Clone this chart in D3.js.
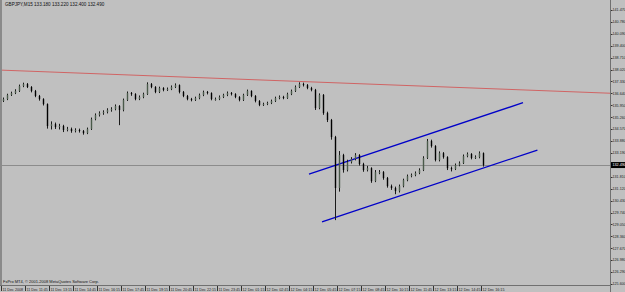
<!DOCTYPE html>
<html>
<head>
<meta charset="utf-8">
<script src="https://cdn.jsdelivr.net/npm/d3@7/dist/d3.min.js"></script>
<style>
  body { margin: 0; background: #c0c0c0; }
  svg { display: block; }
  text { font-family: "Liberation Sans", "DejaVu Sans", sans-serif; }
</style>
</head>
<body>
<svg></svg>
<script>
// GBPJPY M15, 11-12 Dec 2008
const opens = [
  136.20,136.31,136.55,136.66,136.78,137.07,137.18,137.01,136.78,136.49,
  136.31,136.02,134.75,134.86,134.69,134.75,134.52,134.58,134.46,134.52,
  134.46,134.34,134.58,135.15,135.39,135.50,135.56,135.68,135.73,135.91,
  135.68,136.26,136.66,136.60,136.31,136.43,136.60,137.18,137.01,136.72,
  136.95,136.84,136.89,137.01,137.12,136.72,136.49,136.31,136.26,136.37,
  136.55,136.72,136.66,136.31,136.31,136.43,136.55,136.66,136.60,136.43,
  136.26,136.55,136.78,136.49,136.20,135.97,136.02,136.08,136.20,136.37,
  136.43,136.37,136.60,136.78,137.01,137.18,137.12,136.95,136.84,135.79,
  136.55,135.50,135.10,134.11,131.16,133.07,132.20,132.66,132.84,133.07,
  132.55,132.20,132.31,131.56,132.08,132.08,131.74,131.27,131.16,130.98,
  131.27,131.62,131.85,131.91,132.03,132.20,132.90,133.88,133.59,132.78,
  133.18,132.95,132.31,132.26,132.49,132.60,133.01,133.13,132.90,132.95,
  133.18
];
const highs = [
  136.40,136.62,136.74,136.88,137.15,137.26,137.24,137.06,136.84,136.55,
  136.36,136.06,135.02,134.95,134.88,134.82,134.70,134.66,134.62,134.60,
  134.52,134.66,135.24,135.48,135.60,135.66,135.78,135.84,136.00,135.96,
  136.34,136.75,136.72,136.65,136.52,136.68,137.28,137.24,137.06,137.03,
  137.00,136.98,137.10,137.22,137.16,136.78,136.55,136.38,136.45,136.63,
  136.80,136.78,136.70,136.40,136.52,136.62,136.75,136.72,136.65,136.48,
  136.62,136.86,136.82,136.54,136.25,136.10,136.16,136.28,136.45,136.52,
  136.50,136.68,136.86,137.10,137.28,137.26,137.18,137.02,136.90,136.64,
  136.60,135.58,135.16,134.18,133.30,133.14,132.80,132.95,133.18,133.12,
  132.62,132.44,132.36,132.20,132.20,132.14,131.80,131.36,131.24,131.36,
  131.70,131.94,132.00,132.12,132.30,133.00,134.00,133.96,133.64,133.28,
  133.24,133.00,132.40,132.58,132.70,133.10,133.22,133.18,133.05,133.28,
  133.22
];
const lows = [
  136.14,136.25,136.49,136.60,136.72,137.00,136.95,136.70,136.42,136.22,
  135.94,134.60,134.55,134.58,134.55,134.40,134.44,134.36,134.38,134.37,
  134.25,134.28,134.52,135.08,135.30,135.40,135.48,135.58,135.66,134.80,
  135.60,136.20,136.50,136.24,136.25,136.36,136.55,136.94,136.65,136.66,
  136.76,136.78,136.83,136.95,136.64,136.42,136.24,136.18,136.20,136.30,
  136.48,136.58,136.24,136.22,136.25,136.37,136.48,136.52,136.36,136.18,
  136.20,136.49,136.42,136.12,135.90,135.91,135.96,136.02,136.14,136.30,
  136.30,136.32,136.54,136.72,136.95,137.04,136.88,136.76,135.68,135.72,
  135.40,134.98,133.96,129.30,130.95,132.05,132.12,132.58,132.76,132.46,
  132.10,132.12,131.46,131.50,131.96,131.64,131.18,131.05,130.80,130.90,
  131.20,131.55,131.78,131.84,131.96,132.14,132.84,133.50,132.70,132.70,
  132.86,132.20,132.12,132.20,132.42,132.55,132.94,132.82,132.84,132.88,
  132.40
];
const closes = [
  136.31,136.55,136.66,136.78,137.07,137.18,137.01,136.78,136.49,136.31,
  136.02,134.75,134.86,134.69,134.75,134.52,134.58,134.46,134.52,134.46,
  134.34,134.58,135.15,135.39,135.50,135.56,135.68,135.73,135.91,135.68,
  136.26,136.66,136.60,136.31,136.43,136.60,137.18,137.01,136.72,136.95,
  136.84,136.89,137.01,137.12,136.72,136.49,136.31,136.26,136.37,136.55,
  136.72,136.66,136.31,136.31,136.43,136.55,136.66,136.60,136.43,136.26,
  136.55,136.78,136.49,136.20,135.97,136.02,136.08,136.20,136.37,136.43,
  136.37,136.60,136.78,137.01,137.18,137.12,136.95,136.84,135.79,136.55,
  135.50,135.10,134.11,131.16,133.07,132.20,132.66,132.84,133.07,132.55,
  132.20,132.31,131.56,132.08,132.08,131.74,131.27,131.16,130.98,131.27,
  131.62,131.85,131.91,132.03,132.20,132.90,133.88,133.59,132.78,133.18,
  132.95,132.31,132.26,132.49,132.60,133.01,133.13,132.90,132.95,133.18,
  132.49
];

// price scale labels (the 132.500 slot is hidden under the bid label)
const priceTicks = [
  141.470,140.780,140.090,139.400,138.710,138.020,137.330,136.640,
  135.950,135.260,134.570,133.880,133.190,131.810,131.120,130.430,
  129.740,129.050,128.360,127.670,126.980,126.290,125.600
];

// time labels, one every 6 bars
const timeLabels = [
  "11 Dec 2008","11 Dec 11:45","11 Dec 13:15","11 Dec 14:45","11 Dec 16:15",
  "11 Dec 17:45","11 Dec 19:15","11 Dec 20:45","11 Dec 22:15","11 Dec 23:45",
  "12 Dec 01:15","12 Dec 02:45","12 Dec 04:15","12 Dec 05:45","12 Dec 07:15",
  "12 Dec 08:45","12 Dec 10:15","12 Dec 11:45","12 Dec 13:15","12 Dec 14:45",
  "12 Dec 16:15"
];

// drawn trendlines: [bar index, price]
const redLine = [[-0.75, 137.99], [151.75, 136.65]];
const channelTop = [[76.5, 131.97], [130, 136.10]];
const channelBottom = [[79.75, 129.20], [133.6, 133.36]];

const header = "GBPJPY,M15  133.180 133.220 132.400 132.490";
const copyright = "FxPro MT4, \u00a9 2001-2008 MetaQuotes Software Corp.";

let w = 625, h = 292;
var svg = d3.select("svg").attr("width", w).attr("height", h);

const plotRight = 610, plotBottom = 285;

var x = d3.scaleLinear().domain([0, 120]).range([3, 483]);
var y = d3.scaleLinear().domain([125.60, 141.47]).range([284, 10]);

svg.append("rect").attr("width", w).attr("height", h).attr("fill", "#c0c0c0");

svg.append("defs").append("clipPath").attr("id", "plot")
  .append("rect").attr("x", 2).attr("y", 0).attr("width", plotRight - 2).attr("height", plotBottom);

// window frame
svg.append("rect").attr("x", 0).attr("y", 0).attr("width", 2).attr("height", plotBottom)
  .attr("fill", "#8a8a8a");
svg.append("line").attr("x1", 0).attr("x2", plotRight).attr("y1", plotBottom + 0.5).attr("y2", plotBottom + 0.5)
  .attr("stroke", "#707070");
svg.append("line").attr("x1", plotRight + 0.5).attr("x2", plotRight + 0.5).attr("y1", 0).attr("y2", h)
  .attr("stroke", "#707070");

var plot = svg.append("g").attr("clip-path", "url(#plot)");

// bid line
const last = closes[closes.length - 1];
plot.append("line")
  .attr("x1", 2).attr("x2", plotRight)
  .attr("y1", Math.round(y(last)) + 0.5).attr("y2", Math.round(y(last)) + 0.5)
  .attr("stroke", "#8c8c8c");

var line = d3.line().x(d => x(d[0])).y(d => y(d[1]));

plot.append("path").attr("d", line(redLine)).attr("fill", "none")
  .attr("stroke", "#d06464").attr("stroke-width", 1);

[channelTop, channelBottom].forEach(c => {
  plot.append("path").attr("d", line(c)).attr("fill", "none")
    .attr("stroke", "#0000c8").attr("stroke-width", 1.3);
});

// candles
const idx = d3.range(closes.length);
var candles = plot.append("g").selectAll("g").data(idx).enter().append("g");

candles.append("line")
  .attr("x1", i => x(i) + 0.5).attr("x2", i => x(i) + 0.5)
  .attr("y1", i => y(highs[i])).attr("y2", i => y(lows[i]))
  .attr("stroke", "#1a1a1a").attr("stroke-width", 1);

candles.append("rect")
  .attr("x", i => x(i) - 0.2)
  .attr("width", 1.4)
  .attr("y", i => y(Math.max(opens[i], closes[i])))
  .attr("height", i => Math.max(1, Math.abs(y(opens[i]) - y(closes[i]))))
  .attr("fill", i => closes[i] >= opens[i] ? "#4a5a4a" : "#000");

// price axis
var pAxis = svg.append("g");
pAxis.selectAll("line").data(priceTicks).enter().append("line")
  .attr("x1", plotRight + 1).attr("x2", plotRight + 2.5)
  .attr("y1", d => Math.round(y(d)) + 0.5).attr("y2", d => Math.round(y(d)) + 0.5)
  .attr("stroke", "#333");
pAxis.selectAll("text").data(priceTicks).enter().append("text")
  .attr("x", plotRight + 2.5).attr("y", d => y(d) + 1.3)
  .attr("font-size", 3.7).attr("fill", "#222")
  .text(d => d3.format(".3f")(d));

// bid label
svg.append("rect").attr("x", plotRight + 1).attr("y", y(last) - 3)
  .attr("width", w - plotRight - 1).attr("height", 6).attr("fill", "#000");
svg.append("text").attr("x", plotRight + 2.5).attr("y", y(last) + 1.3)
  .attr("font-size", 3.7).attr("fill", "#fff")
  .text(d3.format(".3f")(last));

// time axis
var tAxis = svg.append("g");
tAxis.selectAll("line").data(timeLabels).enter().append("line")
  .attr("x1", (d, k) => Math.round(x(k * 6)) - 1.5).attr("x2", (d, k) => Math.round(x(k * 6)) - 1.5)
  .attr("y1", plotBottom + 1).attr("y2", plotBottom + 6)
  .attr("stroke", "#333");
tAxis.selectAll("text").data(timeLabels).enter().append("text")
  .attr("x", (d, k) => x(k * 6) - 0.5).attr("y", plotBottom + 5.5)
  .attr("font-size", 3.7).attr("fill", "#222")
  .text(d => d);

// header and copyright
svg.append("text").attr("x", 5).attr("y", 6).attr("font-size", 4.6).attr("fill", "#111").text(header);
svg.append("text").attr("x", 3).attr("y", plotBottom - 2).attr("font-size", 4).attr("fill", "#111").text(copyright);
</script>
</body>
</html>
